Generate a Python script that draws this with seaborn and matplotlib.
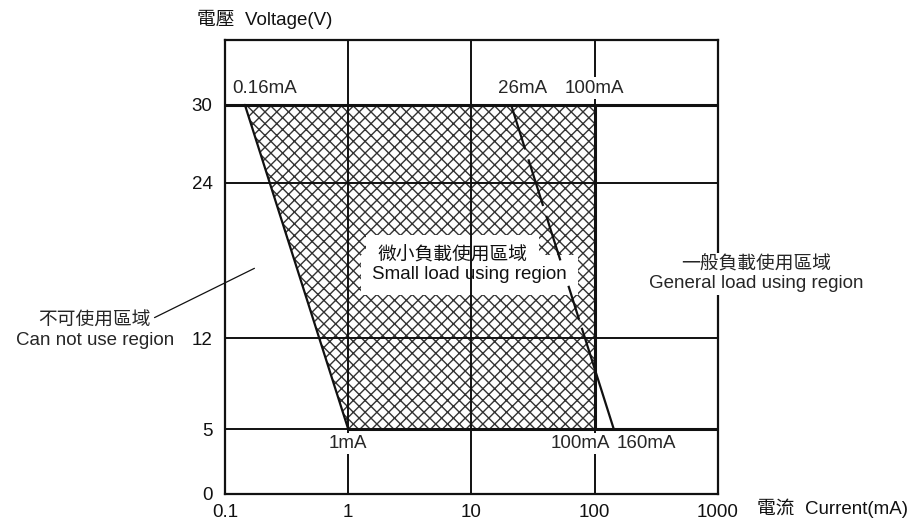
import numpy as np
import pandas as pd
import seaborn as sns
import matplotlib.pyplot as plt

# axis ticks
current_ticks = [0.1, 1, 10, 100, 1000]
current_labels = ['0.1', '1', '10', '100', '1000']
voltage_ticks = [0, 5, 12, 24, 30]

# small load region (hatched): corners in (mA, V)
small_current = [0.145, 100, 100, 1]
small_voltage = [30, 30, 5, 5]

# lower boundary line 0.16mA@30V -> 1mA@5V
min_current = [0.145, 1]
min_voltage = [30, 5]

# general load boundary 26mA@30V -> 160mA@5V
gen_current = [21, 143]
gen_voltage = [30, 5]

# dpi picked so the hatch cell comes out ~12px like the original;
# S converts "points at 100 dpi" into points at this dpi
DPI = 106
S = 100 / DPI

sns.set_theme(style='white')
plt.rcParams['font.family'] = ['Liberation Sans', 'Noto Sans CJK TC', 'DejaVu Sans']
plt.rcParams['hatch.linewidth'] = 1.0 * S

fig = plt.figure(figsize=(911 / DPI, 520 / DPI), dpi=DPI)
ax = fig.add_axes([0.247, 0.05, 0.541, 0.873])
ax.set_xscale('log')
ax.set_xlim(0.1, 1000)
ax.set_ylim(0, 35)

fs = 13.5 * S
ink = '#111111'
thin = 1.4 * S
thick = 2.2 * S

# hatched region
ax.fill(small_current, small_voltage, facecolor='white', edgecolor='#333333',
        linewidth=0, hatch='xxx', zorder=1)

# grid lines
for v in [12, 24]:
    ax.axhline(v, color=ink, lw=thin, zorder=3)
ax.axhline(5, color=ink, lw=thin, zorder=3)
ax.axhline(30, color=ink, lw=thick, zorder=3)
ax.plot([small_current[3], 1000], [5, 5], color=ink, lw=thick, zorder=3)
for c in [1, 10, 100]:
    ax.axvline(c, color=ink, lw=thin, zorder=3)
ax.plot([small_current[1], small_current[2]], [small_voltage[1], small_voltage[2]],
        color=ink, lw=thick, zorder=3)

# boundary lines
min_df = pd.DataFrame({'current': min_current, 'voltage': min_voltage})
gen_df = pd.DataFrame({'current': gen_current, 'voltage': gen_voltage})
sns.lineplot(data=min_df, x='current', y='voltage', sort=False, estimator=None,
             color=ink, lw=1.6 * S, ax=ax, zorder=3)
sns.lineplot(data=gen_df, x='current', y='voltage', sort=False, estimator=None,
             color=ink, lw=1.6 * S, ax=ax, zorder=3)
ax.lines[-1].set_dashes((21, 4.7, 22, 4.7, 21, 12, 16, 3.8, 60, 10))

for s in ax.spines.values():
    s.set_linewidth(1.6 * S)
    s.set_color(ink)
    s.set_zorder(3.5)

ax.set_xticks(current_ticks)
ax.set_xticklabels(current_labels)
ax.minorticks_off()
ax.set_yticks(voltage_ticks)
ax.tick_params(axis='both', length=0, labelsize=fs, colors=ink)
ax.tick_params(axis='x', pad=7 * S)
ax.tick_params(axis='y', pad=9 * S)
ax.set_xlabel('')
ax.set_ylabel('')

wb = dict(boxstyle='square,pad=0.12', facecolor='white', edgecolor='none')

# current labels
ax.text(0.114, 31.3, '0.16mA', ha='left', va='center', fontsize=fs, bbox=wb, zorder=4)
ax.text(26, 31.3, '26mA', ha='center', va='center', fontsize=fs, bbox=wb, zorder=4)
ax.text(100, 31.3, '100mA', ha='center', va='center', fontsize=fs, bbox=wb, zorder=4)
ax.text(1, 3.9, '1mA', ha='center', va='center', fontsize=fs, bbox=wb, zorder=4)
ax.text(77, 3.9, '100mA', ha='center', va='center', fontsize=fs, bbox=wb, zorder=4)
ax.text(263, 3.9, '160mA', ha='center', va='center', fontsize=fs, bbox=wb, zorder=4)

# small load region label: white backing first, then the text above the hatch
box = dict(boxstyle='square,pad=0.6', facecolor='white', edgecolor='none')
small_labels = [(7.0, 18.4, '微小負載使用區域'), (9.6, 16.9, 'Small load using region')]
for x, y, s in small_labels:
    ax.text(x, y, s, ha='center', va='center', fontsize=fs, color=(0, 0, 0, 0),
            bbox=box, zorder=1.5)
for x, y, s in small_labels:
    ax.text(x, y, s, ha='center', va='center', fontsize=fs, color=ink, zorder=2)

ax.text(2037, 17.7, '一般負載使用區域', ha='center', va='center', fontsize=fs,
        bbox=wb, zorder=5, clip_on=False)
ax.text(2037, 16.2, 'General load using region', ha='center', va='center', fontsize=fs,
        bbox=wb, zorder=5, clip_on=False)
ax.text(0.00877, 13.3, '不可使用區域', ha='center', va='center', fontsize=fs,
        clip_on=False)
ax.text(0.00877, 11.8, 'Can not use region', ha='center', va='center', fontsize=fs,
        clip_on=False)
ax.annotate('', xy=(0.182, 17.5), xytext=(0.0255, 13.5),
            arrowprops=dict(arrowstyle='-', lw=0.9 * S, color=ink),
            annotation_clip=False)

# axis titles
fig.text(0.216, 0.962, '電壓  Voltage(V)', ha='left', va='center', fontsize=fs,
         color=ink)
fig.text(0.831, 0.023, '電流  Current(mA)', ha='left', va='center', fontsize=fs,
         color=ink)

fig.savefig('out.png', dpi=DPI)
